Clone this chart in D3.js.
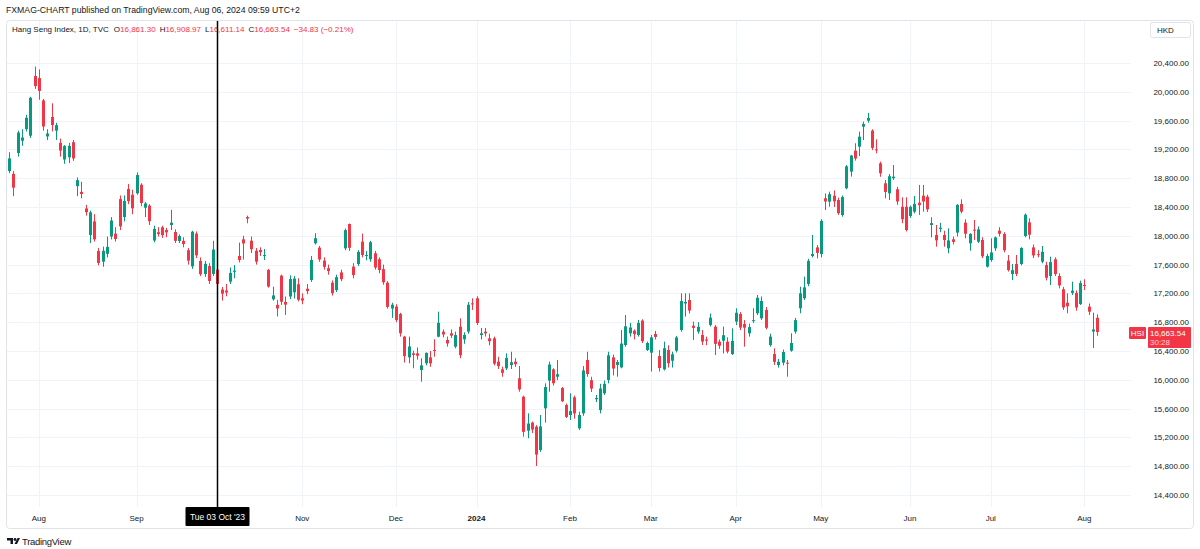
<!DOCTYPE html>
<html lang="en">
<head>
  <meta charset="UTF-8" />
  <title>Hang Seng Index, 1D</title>
  <script src="https://d3js.org/d3.v7.min.js"></script>
  <style>
    body { margin: 0; background: #fff; }
    svg { display: block; font-family: "Liberation Sans", Arial, sans-serif; }
  </style>
</head>
<body>
  <svg width="1200" height="549"></svg>

  <script>
    // trading days: weekdays from 2023-07-21 to 2024-08-06, minus HKEX closures
    const firstDay = "2023-07-21";
    const lastDay = "2024-08-06";
    const closedDays = [
      "2023-09-01", "2023-09-08", "2023-10-02", "2023-10-23", "2023-12-25", "2023-12-26",
      "2024-01-01", "2024-02-12", "2024-02-13", "2024-03-29", "2024-04-01", "2024-04-04",
      "2024-05-01", "2024-05-15", "2024-06-10", "2024-07-01"
    ];

    const open = [
      18900,18860,19150,19320,19480,19390,20220,20190,19880,19380,
      19650,19460,19290,19060,19090,19300,18690,18610,18380,18010,
      18200,17790,17640,17750,17990,18030,18510,18260,18650,18570,
      18590,18710,18390,18420,17935,18050,18118,18080,18150,18053,
      17928,17930,17800,17575,18030,17650,17470,17580,17470,17530,
      17254,17240,17363,17500,17720,17951,18260,17932,17793,17803,
      17720,17525,17118,17040,17447,17081,17157,17215,17327,17132,
      17265,17386,17896,17835,17655,17550,17349,17247,17492,17826,
      18164,17572,17608,17919,17720,17674,17757,17674,17537,17349,
      16990,17016,16914,16599,16312,16367,16367,16136,16229,16312,
      16414,16599,16669,16553,16646,16460,16738,16562,16669,17062,
      17132,16622,16669,16576,16576,16252,16145,16159,16206,16252,
      16021,15766,15293,15405,15349,15025,15604,15988,16145,16043,
      15885,15650,15511,15757,15326,15534,16275,15995,15730,15581,
      15812,15997,16312,16206,16173,16483,16646,16683,16622,16822,
      16414,16377,16636,16330,16145,16414,16265,16404,16692,17060,
      17108,16751,16669,16622,16560,16762,16738,16530,16543,16530,
      16358,16808,16914,16775,16646,16815,16924,16854,16970,16483,
      16358,16206,16238,16238,16404,16669,16993,17132,17331,17720,
      17839,17747,18521,18474,18557,18497,18289,18660,18891,19183,
      19238,19516,19599,19460,19201,19007,18729,18590,18800,18646,
      18404,18404,18275,18335,18460,18557,18543,18150,18011,18095,
      18011,17826,17951,18044,18442,18183,17896,18085,17919,17942,
      17571,17664,17826,18071,18025,17655,17469,17608,17608,17997,
      18187,17839,17745,17641,17594,17442,17674,17442,17257,17071,
      17207,17207,17053,17317,17016,16670,16861.30
    ];
    const high = [
      19160,18900,19460,19480,19680,19930,20350,20310,19900,19480,
      19840,19570,19350,19260,19290,19330,18810,18750,18430,18350,
      18300,17830,17850,17990,18260,18120,18560,18560,18720,18640,
      18880,18730,18470,18440,18140,18120,18140,18110,18360,18090,
      18020,17980,17830,18070,18060,17700,17650,17620,17930,17560,
      17290,17330,17560,17594,17905,18000,18280,17990,17830,17840,
      17817,17540,17293,17110,17460,17157,17450,17440,17410,17200,
      17330,17720,18036,17860,17700,17600,17380,17460,17530,18100,
      18170,17620,17800,18030,17790,17930,17790,17700,17600,17370,
      17070,17050,16930,16610,16600,16404,16450,16298,16380,16400,
      16562,16946,16700,16600,16700,16669,16854,16660,17080,17132,
      17160,16720,16720,16640,16600,16320,16183,16367,16390,16300,
      16190,15780,15534,15420,15370,15511,15951,16252,16160,16275,
      15900,15670,15812,15780,15558,16190,16390,16043,15790,15944,
      15990,16390,16350,16275,16692,16900,16790,16700,16830,16840,
      16530,16622,16680,16414,16530,16480,16390,16610,17201,17201,
      17200,16808,16800,16692,16600,16920,16760,16560,16738,16590,
      16715,16993,16940,16831,16780,16993,17178,17157,17010,16640,
      16437,16290,16420,16275,16646,16860,17293,17433,17680,18011,
      17872,18230,18590,18613,18630,18530,18560,18983,19122,19285,
      19446,19585,19706,19480,19340,19030,18775,18858,18983,18680,
      18535,18535,18420,18553,18706,18706,18570,18257,18150,18180,
      18070,18104,17990,18440,18507,18229,18036,18220,18130,17980,
      17750,17965,17990,18120,18050,17733,17608,17733,17840,18310,
      18243,17880,17800,17858,17640,17710,17700,17480,17290,17201,
      17363,17240,17377,17396,17060,16932,16908.97
    ];
    const low = [
      18870,18550,19100,19250,19450,19360,20040,19890,19460,19330,
      19450,19330,19100,19000,19010,19040,18550,18520,18280,17900,
      17920,17590,17570,17700,17950,17920,18080,18200,18440,18300,
      18570,18410,18260,18150,17910,17990,17970,17980,18080,17900,
      17900,17840,17600,17540,17690,17440,17430,17330,17440,17300,
      17100,17160,17330,17410,17630,17670,18174,17760,17600,17720,
      17664,17280,17100,16880,17040,16900,17120,17130,17090,17050,
      17190,17360,17880,17640,17530,17460,17170,17220,17370,17800,
      17790,17410,17580,17700,17660,17640,17530,17480,17320,16990,
      16860,16800,16600,16240,16230,16160,16280,15974,16200,16180,
      16321,16590,16590,16460,16580,16437,16300,16500,16640,16970,
      16760,16560,16600,16480,16200,16150,16043,16136,16150,16180,
      15835,15210,15188,15260,14803,15000,15405,15835,15920,15997,
      15690,15470,15442,15460,15303,15500,16043,15830,15690,15534,
      15790,15951,16060,16043,16159,16460,16600,16560,16600,16510,
      16400,16114,16560,16114,16130,16170,16170,16380,16669,16877,
      16920,16553,16640,16483,16480,16740,16344,16430,16367,16367,
      16344,16760,16690,16460,16600,16790,16900,16831,16700,16460,
      16206,16170,16200,16043,16390,16640,16924,17108,17300,17700,
      17687,17700,18358,18404,18400,18290,18266,18646,18822,19044,
      19108,19330,19571,19190,19146,18820,18521,18497,18775,18430,
      18174,18060,18250,18312,18289,18335,18330,17979,17849,18050,
      17849,17757,17880,17990,18312,17965,17794,17942,17900,17690,
      17560,17640,17790,17990,17770,17503,17386,17440,17590,17980,
      17951,17690,17700,17618,17380,17317,17440,17270,16970,16924,
      17178,16960,17039,17247,16900,16441,16611.14
    ];
    const close = [
      19075,18668,19434,19365,19639,19917,20079,20012,19518,19421,
      19539,19537,19184,19246,19249,19075,18773,18581,18329,18326,
      17951,17623,17792,17846,18212,17956,18131,18484,18482,18382,
      18844,18456,18449,18202,18096,18025,18009,18047,18182,17930,
      17997,17885,17655,18057,17729,17467,17611,17373,17809,17331,
      17196,17212,17485,17517,17664,17894,18239,17813,17640,17773,
      17732,17295,17172,16991,17085,17044,17399,17406,17112,17101,
      17231,17664,17966,17671,17569,17511,17203,17426,17397,18079,
      17833,17454,17778,17733,17734,17911,17559,17525,17354,17013,
      17043,16830,16646,16328,16463,16345,16334,16201,16374,16229,
      16402,16792,16629,16505,16613,16621,16341,16624,17043,17047,
      16789,16646,16645,16535,16224,16190,16097,16302,16244,16217,
      15866,15277,15392,15309,14961,15353,15899,16212,15952,16078,
      15703,15485,15567,15533,15511,16130,16081,15878,15747,15879,
      15944,16340,16156,16247,16503,16743,16726,16634,16790,16536,
      16511,16589,16595,16163,16438,16230,16354,16588,17094,17082,
      16962,16721,16737,16530,16543,16863,16499,16473,16619,16392,
      16541,16931,16725,16724,16732,16828,17139,17095,16722,16600,
      16249,16251,16386,16224,16511,16829,17201,17284,17652,17747,
      17763,18207,18476,18578,18479,18314,18538,18964,19115,19073,
      19377,19553,19636,19221,19195,18869,18609,18827,18821,18477,
      18230,18080,18403,18444,18425,18476,18367,18176,17937,18112,
      17942,17936,17915,18430,18335,18028,18027,18072,18089,17716,
      17719,17769,17978,18028,17799,17524,17523,17471,17832,18293,
      18015,17727,17739,17778,17417,17635,17469,17311,17005,17021,
      17238,17004,17344,17304,16946,16698.37,16663.54
    ];

    const priceTicks = [14400, 14800, 15200, 15600, 16000, 16400, 16800, 17200,
                        17600, 18000, 18400, 18800, 19200, 19600, 20000, 20400];
    const crossDay = "2023-10-03";
    const lastPrice = 16663.54;
    const countdown = "30:28";

    const parse = d3.timeParse("%Y-%m-%d");
    const fmt = d3.timeFormat("%Y-%m-%d");
    const closedSet = new Set(closedDays);
    const dates = d3.timeDay.range(parse(firstDay), d3.timeDay.offset(parse(lastDay), 1))
      .filter(d => d.getDay() !== 0 && d.getDay() !== 6 && !closedSet.has(fmt(d)));

    const bars = dates.map((d, i) => ({ date: d, o: open[i], h: high[i], l: low[i], c: close[i] }));

    const up = "#089981", down = "#f23645", ink = "#131722";
    const plot = { left: 7, right: 1131, top: 21, bottom: 507 };

    const x = d3.scaleLinear().domain([0, bars.length - 1]).range([9, 1097]);
    const y = d3.scaleLinear().domain([14400, 20400]).range([495, 63]);

    const svg = d3.select("svg");

    // header
    svg.append("text").attr("x", 6).attr("y", 13)
      .attr("font-size", 8.7).attr("fill", ink)
      .text("FXMAG-CHART published on TradingView.com, Aug 06, 2024 09:59 UTC+2");

    svg.append("rect")
      .attr("x", 6.5).attr("y", 20.5).attr("width", 1187).attr("height", 508)
      .attr("rx", 3).attr("fill", "none").attr("stroke", "#e0e3eb");

    // month ticks = first trading day of each month
    const monthIdx = [];
    bars.forEach((b, i) => {
      if (i > 0 && b.date.getMonth() !== bars[i - 1].date.getMonth()) monthIdx.push(i);
    });

    const grid = svg.append("g").attr("stroke", "#f0f3fa").attr("stroke-width", 1);
    grid.selectAll("line.h").data(priceTicks).enter().append("line")
      .attr("x1", plot.left).attr("x2", plot.right)
      .attr("y1", d => Math.round(y(d)) + 0.5).attr("y2", d => Math.round(y(d)) + 0.5);
    grid.selectAll("line.v").data(monthIdx).enter().append("line")
      .attr("x1", d => Math.round(x(d)) + 0.5).attr("x2", d => Math.round(x(d)) + 0.5)
      .attr("y1", plot.top).attr("y2", plot.bottom);

    // candles
    const candles = svg.append("g").selectAll("g").data(bars).enter().append("g")
      .attr("fill", d => d.c >= d.o ? up : down)
      .attr("stroke", d => d.c >= d.o ? up : down);

    candles.append("line")
      .attr("x1", (d, i) => Math.round(x(i)) + 0.5).attr("x2", (d, i) => Math.round(x(i)) + 0.5)
      .attr("y1", d => y(d.h)).attr("y2", d => y(d.l))
      .attr("stroke-width", 1);

    candles.append("rect")
      .attr("stroke", "none")
      .attr("x", (d, i) => Math.round(x(i)) - 1)
      .attr("width", 3)
      .attr("y", d => y(Math.max(d.o, d.c)))
      .attr("height", d => Math.max(1, Math.abs(y(d.o) - y(d.c))));

    // legend line
    const last = bars[bars.length - 1];
    const prev = bars[bars.length - 2];
    const chg = last.c - prev.c;
    const num = d3.format(",.2f");
    const minus = s => s.replace("-", "\u2212");
    const legend = svg.append("text").attr("x", 12).attr("y", 32).attr("font-size", 8).attr("fill", ink);
    legend.append("tspan").text("Hang Seng Index, 1D, TVC");
    [["O", last.o], ["H", last.h], ["L", last.l], ["C", last.c]].forEach(([k, v], i) => {
      legend.append("tspan").attr("dx", i === 0 ? 5 : 4).text(k);
      legend.append("tspan").attr("fill", down).text(num(v));
    });
    legend.append("tspan").attr("dx", 4).attr("fill", down)
      .text(`${minus(num(chg))} (${minus(d3.format(".2f")(chg / prev.c * 100))}%)`);

    // price axis
    svg.append("g").selectAll("text").data(priceTicks).enter().append("text")
      .attr("x", 1189).attr("y", d => y(d) + 3)
      .attr("text-anchor", "end").attr("font-size", 8).attr("fill", ink)
      .text(d => num(d));

    svg.append("rect").attr("x", 1150.5).attr("y", 22.5).attr("width", 40).attr("height", 15)
      .attr("rx", 2).attr("fill", "#fff").attr("stroke", "#e0e3eb");
    svg.append("text").attr("x", 1157).attr("y", 33).attr("font-size", 8).attr("fill", ink).text("HKD");

    // last price label
    const py = y(lastPrice);
    svg.append("rect").attr("x", 1129).attr("y", py - 5).attr("width", 17).attr("height", 12)
      .attr("rx", 1).attr("fill", down);
    svg.append("text").attr("x", 1137.5).attr("y", py + 4).attr("text-anchor", "middle")
      .attr("font-size", 8).attr("fill", "#fff").text("HSI");
    svg.append("rect").attr("x", 1148).attr("y", py - 5).attr("width", 43).attr("height", 21)
      .attr("rx", 1).attr("fill", down);
    svg.append("text").attr("x", 1150).attr("y", py + 4)
      .attr("font-size", 8).attr("fill", "#fff").text(num(lastPrice));
    svg.append("text").attr("x", 1150).attr("y", py + 13)
      .attr("font-size", 8).attr("fill", "#fbd4d8").text(countdown);

    // crosshair position (its date label hides the month label beneath it)
    const ci = bars.findIndex(b => fmt(b.date) === crossDay);
    const cx = Math.round(x(ci)) + 0.5;

    // time axis
    const monthFmt = d => d.getMonth() === 0 ? d3.timeFormat("%Y")(d) : d3.timeFormat("%b")(d);
    svg.append("g").selectAll("text").data(monthIdx.filter(i => Math.abs(x(i) - cx) > 40)).enter().append("text")
      .attr("x", d => x(d)).attr("y", 521)
      .attr("text-anchor", "middle").attr("font-size", 8).attr("fill", ink)
      .attr("font-weight", d => bars[d].date.getMonth() === 0 ? "bold" : null)
      .text(d => monthFmt(bars[d].date));

    // crosshair
    svg.append("line").attr("x1", cx).attr("x2", cx).attr("y1", plot.top).attr("y2", plot.bottom)
      .attr("stroke", "#000").attr("stroke-width", 1.5);
    svg.append("rect").attr("x", cx - 32).attr("y", 507).attr("width", 64).attr("height", 19)
      .attr("rx", 1).attr("fill", "#000");
    svg.append("text").attr("x", cx).attr("y", 520).attr("text-anchor", "middle")
      .attr("font-size", 8.5).attr("fill", "#fff")
      .text(d3.timeFormat("%a %d %b '%y")(bars[ci].date));

    // footer logo
    const logo = svg.append("g").attr("fill", ink);
    logo.append("path").attr("d", "M7 538 h6 v6 h-2.5 v-3.5 h-3.5 z");
    logo.append("circle").attr("cx", 15).attr("cy", 539.5).attr("r", 1.4);
    logo.append("path").attr("d", "M17.5 538 h2.5 l-3 6 h-2.5 z");
    svg.append("text").attr("x", 22).attr("y", 544.5).attr("font-size", 9.5)
      .attr("fill", ink).attr("letter-spacing", -0.3).text("TradingView");
  </script>
</body>
</html>
